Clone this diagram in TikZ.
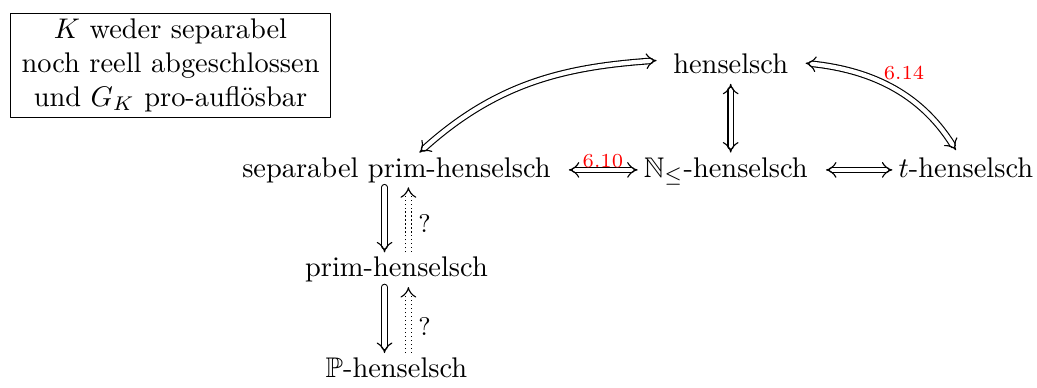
\documentclass[tikz,border=0pt]{standalone}
\usepackage{amssymb}
\usetikzlibrary{arrows.meta}
\tikzset{
  obj/.style={anchor=base, inner xsep=2pt, inner ysep=1.5pt, text height=6.9pt, text depth=1.9pt},
  impl/.style={double, double equal sign distance, -{Implies}},
  bimpl/.style={double, double equal sign distance, {Implies}-{Implies}},
  ref/.style={font=\scriptsize, text=red},
  open/.style={densely dotted, line cap=butt},
}
\begin{document}
\begin{tikzpicture}[line cap=round,line join=round]
  \useasboundingbox (0,0) rectangle (12.83,4.79);
  \node[draw, align=center, inner xsep=4pt, inner ysep=2pt] (cond) at (2.11,3.98)
    {$K$ weder separabel\\noch reell abgeschlossen\\und $G_K$ pro-aufl\"osbar};
  \node[obj] (hens) at (9.04,3.88) {henselsch};
  \node[obj] (sep) at (4.905,2.60) {separabel prim-henselsch};
  \node[obj] (nle) at (8.98,2.60) {$\mathbb{N}_{\le}$-henselsch};
  \node[obj] (th) at (11.95,2.60) {$t$-henselsch};
  \node[obj] (prim) at (4.905,1.365) {prim-henselsch};
  \node[obj] (ph) at (4.905,0.12) {$\mathbb{P}$-henselsch};
  \draw[bimpl, shorten >=3.7pt] (sep.37) to[out=42,in=184] (hens.174);
  \draw[bimpl, shorten <=4pt, shorten >=1pt] (hens.4) to[out=-6,in=122]
    node[ref, pos=.45, anchor=south west, inner sep=1pt] {6.14} (th.116);
  \draw[bimpl] (hens.south) -- (nle.north -| hens.south);
  \draw[bimpl, shorten <=4.2pt] (sep) -- node[ref, above, inner sep=.5pt, pos=.57] {6.10} (nle);
  \draw[bimpl, shorten <=4.2pt] (nle) -- (th);
  \draw[impl] ([xshift=-4.2pt]sep.south) -- ([xshift=-4.2pt]prim.north);
  \draw[impl, open] ([xshift=4.2pt]prim.north) -- node[right, pos=.45, font=\small] {?} ([xshift=4.2pt]sep.south);
  \draw[impl] ([xshift=-4.2pt]prim.south) -- ([xshift=-4.2pt]ph.north);
  \draw[impl, open] ([xshift=4.2pt]ph.north) -- node[right, pos=.4, font=\small] {?} ([xshift=4.2pt]prim.south);
\end{tikzpicture}
\end{document}
